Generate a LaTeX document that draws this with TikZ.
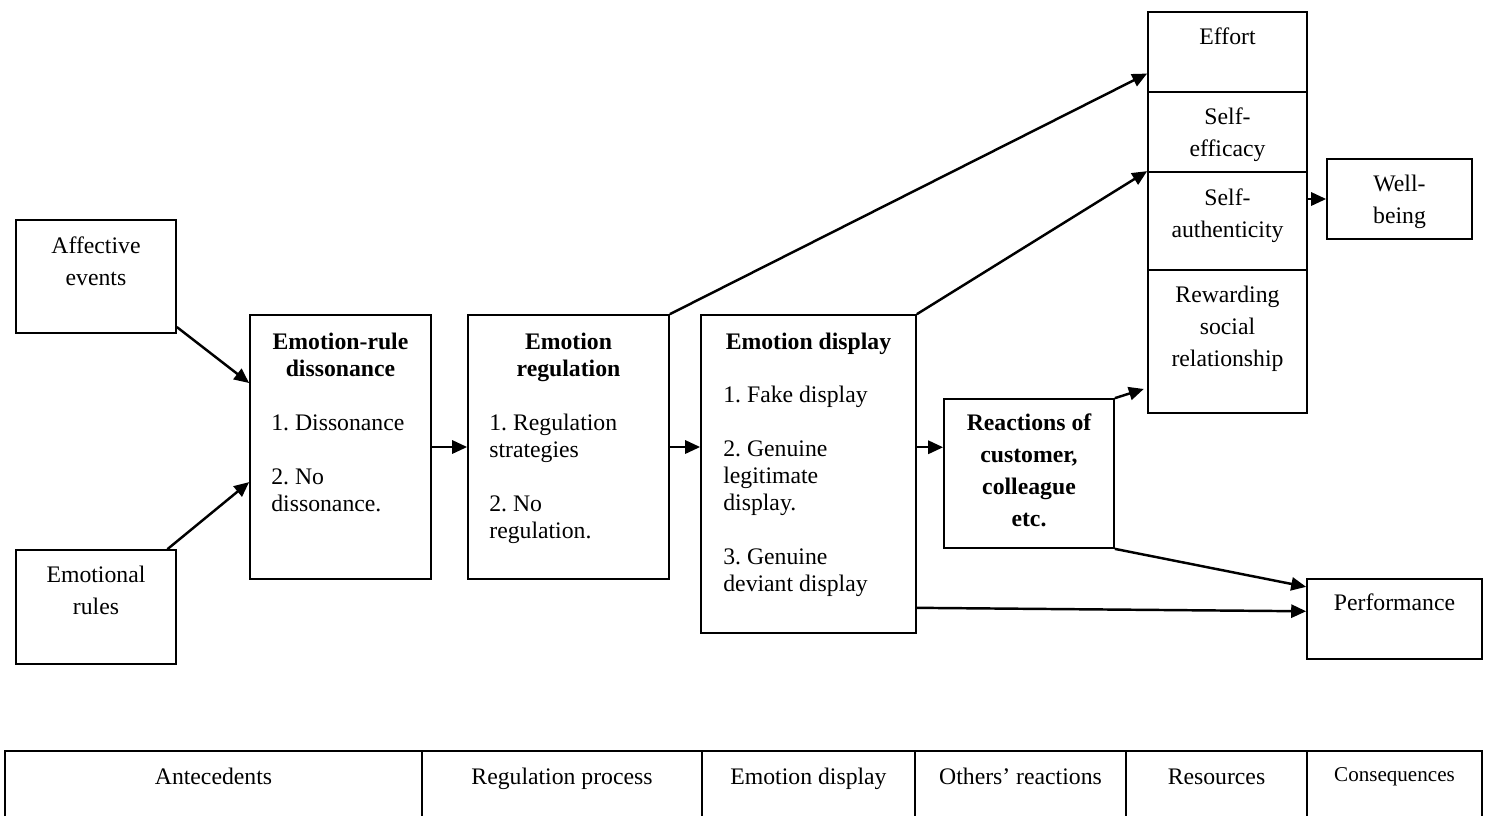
\documentclass[tikz,border=0pt]{standalone}
\usepackage{fontspec}
\setmainfont{Liberation Serif}
\frenchspacing
\usetikzlibrary{arrows.meta}
\usetikzlibrary{calc}
\tikzset{
  box/.style={draw=black, line width=1pt, inner sep=0pt},
  lbl/.style={font=\fontsize{13.5}{18.1}\selectfont, align=center, anchor=base, inner sep=0pt},
  ttl/.style={font=\fontsize{13.5}{15.3}\selectfont\bfseries, align=center, anchor=base, inner sep=0pt},
  lst/.style={font=\fontsize{13.5}{15.3}\selectfont, align=left, anchor=base west, inner sep=0pt},
  arr/.style={line width=1.4pt, -{Triangle[length=8.5pt,width=7.5pt]}},
  rule/.style={line width=0.8pt}
}

\begin{document}
\begin{tikzpicture}[x=0.02cm, y=-0.02cm]
\useasboundingbox (0,0) rectangle (1488,816);

% Antecedents (text nodes sit on the baseline of their last line)
\node[box, minimum width=3.2cm, minimum height=2.26cm] (affect) at (96,276.5) {};
\node[lbl] (affecttxt) at (96,285) {Affective\\events};
\node[box, minimum width=3.2cm, minimum height=2.28cm] (rules) at (96,607) {};
\node[lbl] (rulestxt) at (96,614) {Emotional\\rules};

% Regulation process
\node[box, minimum width=3.62cm, minimum height=5.28cm] (dis) at (340.5,447) {};
\node[ttl] (distitle) at (340.5,376) {Emotion-rule\\dissonance};
\node[lst] (dislist) at (271,511) {1. Dissonance\\[15.3pt]2. No\\dissonance.};

\node[box, minimum width=4.02cm, minimum height=5.28cm] (reg) at (568.5,447) {};
\node[ttl] (regtitle) at (568.5,376) {Emotion\\regulation};
\node[lst] (reglist) at (489,538) {1. Regulation\\strategies\\[15.3pt]2. No\\regulation.};

% Emotion display
\node[box, minimum width=4.3cm, minimum height=6.36cm] (disp) at (808.5,474) {};
\node[ttl] (disptitle) at (808.5,349) {Emotion display};
\node[lst] (displist) at (723,591) {1. Fake display\\[15.3pt]2. Genuine\\legitimate\\display.\\[15.3pt]3. Genuine\\deviant display};

% Others' reactions
\node[box, minimum width=3.4cm, minimum height=2.98cm] (reac) at (1029,473.5) {};
\node[lbl, font=\fontsize{13.5}{18.1}\selectfont\bfseries] (reactxt) at (1029,526) {Reactions of\\customer,\\colleague\\etc.};

% Resources
\node[box, minimum width=3.18cm, minimum height=1.6cm] (effort) at (1227.5,52) {};
\node[lbl] (efforttxt) at (1227.5,44) {Effort};
\node[box, minimum width=3.18cm, minimum height=1.6cm] (efficacy) at (1227.5,132) {};
\node[lbl] (efficacytxt) at (1227.5,156) {Self-\\efficacy};
\node[box, minimum width=3.18cm, minimum height=1.96cm] (auth) at (1227.5,221) {};
\node[lbl] (authtxt) at (1227.5,237) {Self-\\authenticity};
\node[box, minimum width=3.18cm, minimum height=2.86cm] (reward) at (1227.5,341.5) {};
\node[lbl] (rewardtxt) at (1227.5,366) {Rewarding\\social\\relationship};

% Consequences
\node[box, minimum width=2.9cm, minimum height=1.6cm] (well) at (1399.5,199) {};
\node[lbl] (welltxt) at (1399.5,223) {Well-\\being};
\node[box, minimum width=3.5cm, minimum height=1.6cm] (perf) at (1394.5,619) {};
\node[lbl] (perftxt) at (1394.5,610) {Performance};

% Arrows
\draw[arr] (affect.-32) -- (dis.145);
\draw[arr] (rules.39) -- (dis.201);
\draw[arr] (dis.east) -- (reg.west);
\draw[arr] (reg.east) -- (reg.east -| disp.west);
\draw[arr] (reac.163 -| disp.east) -- (reac.163);
\draw[arr] (reg.north east) -- (effort.195);
\draw[arr] (disp.north east) -- (auth.north west);
\draw[arr] (well.west -| auth.east) -- (well.west);
\draw[arr, shorten >=2pt] (reac.north east) -- (reward.210);
\draw[arr] (reac.south east) -- (perf.160);
\draw[arr] (disp.-51) -- (perf.175);

% Stages
\draw[rule] (5,816) -- (5,751) -- (1482,751) -- (1482,816);
\draw[rule] (422,751) -- (422,816);
\draw[rule] (702,751) -- (702,816);
\draw[rule] (915,751) -- (915,816);
\draw[rule] (1126,751) -- (1126,816);
\draw[rule] (1307,751) -- (1307,816);
\node[lbl] (stageA) at (213.5,784) {Antecedents};
\node[lbl] (stageB) at (562,784) {Regulation process};
\node[lbl] (stageC) at (808.5,784) {Emotion display};
\node[lbl] (stageD) at (1020.5,784) {Others’ reactions};
\node[lbl] (stageE) at (1216.5,784) {Resources};
\node[lbl, font=\fontsize{12}{14}\selectfont] (stageF) at (1394.5,781) {Consequences};
\end{tikzpicture}
\end{document}
